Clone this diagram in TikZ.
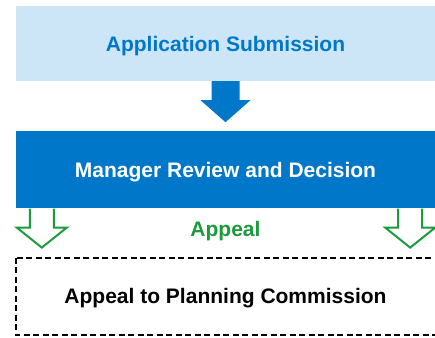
\documentclass[tikz,border=0pt]{standalone}
\usepackage{fontspec}
\setmainfont{Liberation Sans}
\usetikzlibrary{positioning, calc}
\definecolor{primary}{HTML}{0077C8}
\definecolor{primarylight}{HTML}{CCE6F8}
\definecolor{appealgreen}{HTML}{1A9B3C}
\tikzset{
  stage/.style      = {rectangle, minimum width=419pt, inner sep=0pt, align=center,
                       text height=15pt, text depth=0pt,
                       font=\fontsize{21}{25}\selectfont\bfseries},
  submitbox/.style  = {stage, fill=primarylight, text=primary, minimum height=75pt},
  reviewbox/.style  = {stage, fill=primary, text=white, minimum height=77pt},
  appealbox/.style  = {stage, text=black, minimum height=77pt},
  frame/.style      = {draw=black, line width=2.2pt, dash pattern=on 6pt off 3.5pt},
  lbl/.style        = {inner sep=0pt, text height=15pt, text depth=0pt,
                       font=\fontsize{21}{25}\selectfont\bfseries, text=appealgreen},
  % downward block arrow: shaft half width / head half width / head length
  blockdown/.style args = {#1/#2/#3}{to path={
      let \p1=(\tikztostart), \p2=(\tikztotarget) in
      (\x1-#1,\y1) -- (\x1-#1,\y2+#3) -- (\x1-#2,\y2+#3) -- (\x2,\y2)
      -- (\x1+#2,\y2+#3) -- (\x1+#1,\y2+#3) -- (\x1+#1,\y1)}},
  flow/.style       = {fill=primary, blockdown=14pt/25pt/22pt},
  appealflow/.style = {draw=appealgreen, line width=2pt, blockdown=12pt/25pt/20pt},
}

\begin{document}
\begin{tikzpicture}[node distance=50pt]

  \useasboundingbox (0,0) rectangle (435pt,-337pt);

  \node[submitbox] (submit) at (225.5pt,-43.5pt) {Application Submission};
  \node[reviewbox, below=of submit] (review) {Manager Review and Decision};
  \node[appealbox, below=49pt of review] (commission) {Appeal to Planning Commission};
  \draw[frame] (commission.north west) rectangle ([xshift=15pt]commission.south east);

  \node[lbl, yshift=4.5pt] (appeal) at ($(review.south)!0.5!(commission.north)$) {Appeal};

  \path[flow] (submit.south) to ([yshift=9pt]review.north);
  \path[appealflow] ([xshift=26pt]review.south west) to ([xshift=26pt, yshift=10pt]commission.north west);
  \path[appealflow] ([xshift=-25pt]review.south east) to ([xshift=-25pt, yshift=10pt]commission.north east);

\end{tikzpicture}
\end{document}
